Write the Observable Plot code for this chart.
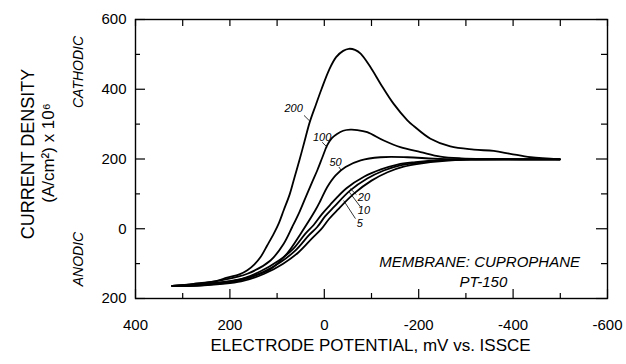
<!DOCTYPE html>
<html><head><meta charset="utf-8">
<script src="https://cdn.jsdelivr.net/npm/d3@7"></script>
<script src="https://cdn.jsdelivr.net/npm/@observablehq/plot@0.6"></script>
<style>
body{margin:0;background:#fff;}
#chart svg{display:block;}
</style>
</head><body><div id="chart"></div>
<script>
// Scan rates (mV/s) labelling each curve
const rates = ["200", "100", "50", "20", "10", "5"];

// Electrode potential (mV vs ISSCE) and current density (A/cm² x 10^6) per curve
const pot200 = [322, 277, 230, 206, 180, 163, 148, 135, 121, 107, 96, 86, 73, 63, 52, 42, 31, 18, 6, -10, -25, -40, -52, -65, -77, -98, -119, -147, -176, -190, -225, -267, -317, -359, -394, -437, -499];
const cur200 = [-164, -158, -150, -140, -131, -119, -102, -81, -48, -14, 17, 53, 100, 148, 200, 250, 305, 355, 400, 455, 492, 510, 516, 513, 502, 463, 416, 358, 311, 294, 258, 236, 227, 223, 215, 205, 199];

const pot100 = [322, 270, 220, 163, 114, 86, 68, 52, 38, 26, 15, 4, -6, -16, -27, -40, -55, -70, -91, -126, -161, -204, -246, -290, -350, -420, -499];
const cur100 = [-164, -158, -148, -129, -91, -43, 5, 50, 95, 133, 167, 205, 239, 260, 272, 281, 284, 283, 277, 253, 234, 220, 207, 202, 200, 199, 199];

const pot50 = [322, 260, 200, 163, 114, 79, 50, 19, 8, -6, -24, -45, -77, -119, -176, -232, -290, -350, -420, -499];
const cur50 = [-164, -159, -150, -140, -116, -71, -14, 53, 81, 119, 153, 177, 196, 205, 205, 201, 199, 199, 199, 199];

const pot20 = [322, 262, 180, 135, 97, 66, 40, 23, 5, -12, -47, -84, -120, -155, -193, -245, -310, -400, -499];
const cur20 = [-164, -160, -146, -122, -92, -58, -14, 10, 42, 68, 116, 149, 170, 184, 191, 197, 199, 199, 199];

const pot10 = [322, 262, 178, 131, 93, 61, 33, 15, -2, -20, -55, -91, -126, -161, -197, -246, -310, -400, -499];
const cur10 = [-164, -162, -148, -125, -96, -62, -19, 5, 36, 62, 110, 144, 167, 182, 189, 196, 199, 199, 199];

const pot5 = [322, 262, 176, 127, 88, 55, 25, 7, -10, -28, -64, -100, -134, -168, -203, -250, -310, -400, -499];
const cur5 = [-164, -163, -151, -129, -101, -68, -26, -2, 28, 54, 102, 138, 162, 178, 187, 194, 198, 199, 199];

// Curve label anchors (data units) and leader lines
const labelPot = [65, 4.5, -24, -84, -84, -75];
const labelCur = [344, 263, 191, 91, 53, 15];
const leadPot1 = [43, 4.5, -31, -55, -53, -41];
const leadCur1 = [325, 248, 177, 115, 105, 81];
const leadPot2 = [31, -6, -36, -68, -77, -66];
const leadCur2 = [309, 234, 167, 98, 62, 29];

// Axis ticks
const xMajor = [400, 200, 0, -200, -400, -600];
const xMinor = [300, 100, -100, -300, -500];
const yMajor = [600, 400, 200, 0, -200];
const yMinor = [500, 300, 100, -100];

const potentials = [pot200, pot100, pot50, pot20, pot10, pot5];
const currents = [cur200, cur100, cur50, cur20, cur10, cur5];
const rows = rates.flatMap((r, i) => potentials[i].map((p, j) => ({rate: r, x: p, y: currents[i][j]})));
const labels = rates.map((r, i) => ({text: r, x: labelPot[i], y: labelCur[i], x1: leadPot1[i], y1: leadCur1[i], x2: leadPot2[i], y2: leadCur2[i]}));

const W = 626, H = 364, mL = 135, mR = 19, mT = 19, mB = 66;
const fw = W - mL - mR, fh = H - mT - mB;
const font = "'Liberation Sans', Arial, Helvetica, sans-serif";

const chart = Plot.plot({
  width: W, height: H,
  marginLeft: mL, marginRight: mR, marginTop: mT, marginBottom: mB,
  style: {fontFamily: font, fontSize: "15px", color: "#000", background: "#fff", overflow: "visible"},
  x: {domain: [400, -600]},
  y: {domain: [-200, 600]},
  marks: [
    // inward ticks on all four sides
    Plot.tickX(xMajor, {x: d => d, insetTop: fh - 9, stroke: "#000", strokeWidth: 1.2}),
    Plot.tickX(xMinor, {x: d => d, insetTop: fh - 5, stroke: "#000", strokeWidth: 1.2}),
    Plot.tickX(xMajor.concat(xMinor), {x: d => d, insetBottom: fh - 7, stroke: "#000", strokeWidth: 1.2}),
    Plot.tickY(yMajor, {y: d => d, insetRight: fw - 10, stroke: "#000", strokeWidth: 1.2}),
    Plot.tickY(yMinor, {y: d => d, insetRight: fw - 5, stroke: "#000", strokeWidth: 1.2}),
    Plot.tickY(yMajor, {y: d => d, insetLeft: fw - 11, stroke: "#000", strokeWidth: 1.2}),
    Plot.tickY(yMinor, {y: d => d, insetLeft: fw - 6, stroke: "#000", strokeWidth: 1.2}),
    Plot.frame({stroke: "#000", strokeWidth: 1.4}),
    Plot.axisX(xMajor, {tickSize: 0, tickPadding: 21, tickFormat: d => String(d), label: null, fontSize: 15}),
    Plot.axisY(yMajor, {tickSize: 0, tickPadding: 9, tickFormat: d => String(Math.abs(d)), label: null, fontSize: 15}),
    // curves
    Plot.line(rows, {x: "x", y: "y", z: "rate", stroke: "#000", strokeWidth: 1.8, curve: "catmull-rom"}),
    // curve labels and leaders
    Plot.link(labels, {x1: "x1", y1: "y1", x2: "x2", y2: "y2", stroke: "#000", strokeWidth: 0.8}),
    Plot.text(labels, {x: "x", y: "y", text: "text", fontStyle: "italic", fontSize: 11}),
    // membrane note
    Plot.text(["MEMBRANE: CUPROPHANE"], {x: -329, y: -96, fontStyle: "italic", fontSize: 15, letterSpacing: "0.2px"}),
    Plot.text(["PT-150"], {x: -337, y: -154, fontStyle: "italic", fontSize: 15, letterSpacing: "0.2px"}),
    // axis titles
    Plot.text(["CURRENT DENSITY"], {frameAnchor: "left", textAnchor: "middle", lineAnchor: "middle", dx: -107, dy: -5, rotate: -90, fontSize: 18}),
    Plot.text(["(A/cm\u00b2) x 10\u2076"], {frameAnchor: "left", textAnchor: "middle", lineAnchor: "middle", dx: -87, dy: -6, rotate: -90, fontSize: 17}),
    Plot.text(["CATHODIC"], {frameAnchor: "left", textAnchor: "middle", lineAnchor: "middle", dx: -57, dy: -87, rotate: -90, fontSize: 14, fontStyle: "italic"}),
    Plot.text(["ANODIC"], {frameAnchor: "left", textAnchor: "middle", lineAnchor: "middle", dx: -57, dy: 100, rotate: -90, fontSize: 14, fontStyle: "italic"}),
    Plot.text(["ELECTRODE POTENTIAL, mV vs. ISSCE"], {frameAnchor: "bottom", lineAnchor: "middle", dx: -1, dy: 47, fontSize: 17, letterSpacing: "0.6px"})
  ]
});
document.getElementById("chart").appendChild(chart);
</script>
</body></html>
